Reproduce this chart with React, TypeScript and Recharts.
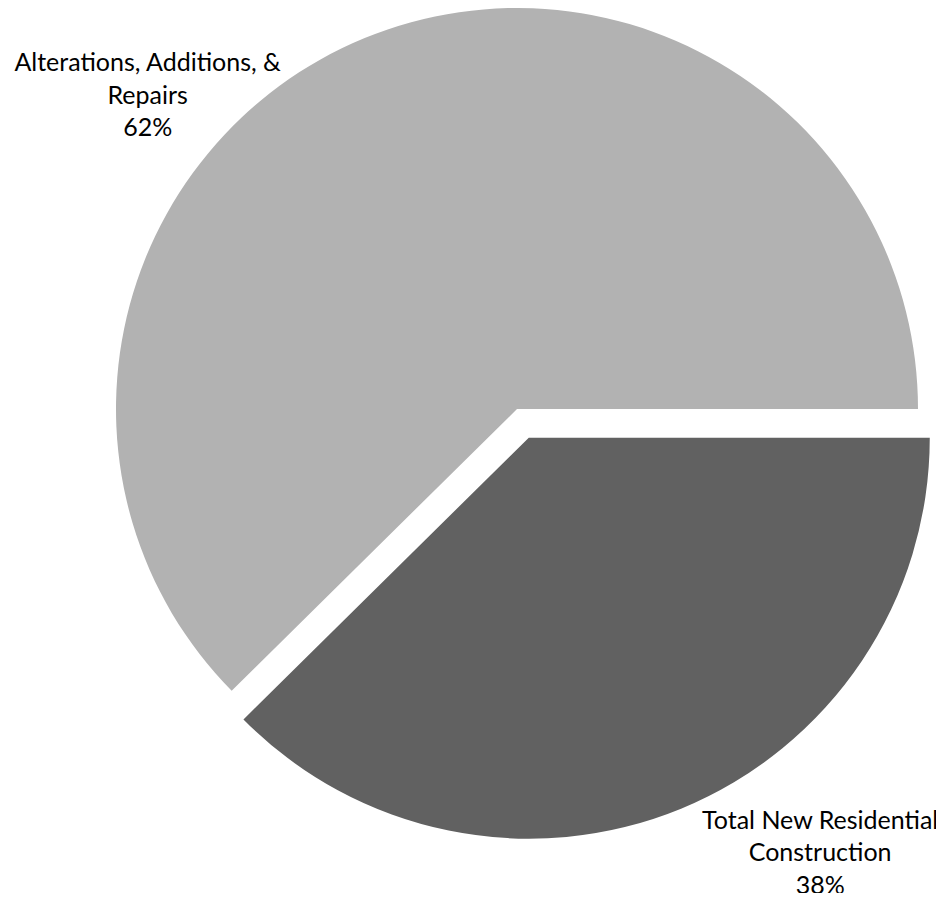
import { Cell, Pie, PieChart } from 'recharts';

const categories = ['Alterations, Additions, & Repairs', 'Total New Residential Construction'];
const shares = [62.4, 37.6];
const labelLines = [
    ['Alterations, Additions, &', 'Repairs'],
    ['Total New Residential', 'Construction'],
];
const COLORS = ['#b2b2b2', '#616161'];

const data = categories.map((name, i) => ({ name, value: shares[i] }));

const W = 944;
const H = 901;
const CX = 517;
const CY = 409;
const R = 401;
const EXPLODE = 31; // the dark slice is pulled out

// mid angle of the exploded (second) slice, counter-clockwise from 3 o'clock
const total = shares.reduce((a, b) => a + b, 0);
const darkMid = 360 * (shares[0] + shares[1] / 2) / total;
const rad = (darkMid * Math.PI) / 180;
const dx = EXPLODE * Math.cos(rad);
const dy = -EXPLODE * Math.sin(rad);

// where each label block sits, relative to the pie centre (in radii)
const LABEL_POS = [
    { x: -0.921, y: -0.842 },
    { x: 0.756, y: 1.047 },
];

const FONT = 'Lato, "Open Sans", sans-serif';

function renderLabel(props: any) {
    const { cx, cy, outerRadius, index, percent } = props;
    const pos = LABEL_POS[index];
    const x = cx + pos.x * outerRadius;
    const y = cy + pos.y * outerRadius;
    const lines = [...labelLines[index], `${Math.round(percent * 100)}%`];
    return (
        <text
            key={`lbl-${index}`}
            x={x}
            y={y}
            textAnchor="middle"
            fill="#000"
            fontSize={25}
            fontFamily={FONT}
        >
            {lines.map((l, i) => (
                <tspan key={i} x={x} dy={i === 0 ? 0 : 32.5}>
                    {l}
                </tspan>
            ))}
        </text>
    );
}

export default function App() {
    return (
        <div style={{ margin: -8 }}>
            <PieChart width={W} height={H} margin={{ top: 0, right: 0, bottom: 0, left: 0 }}>
                <Pie
                    data={data}
                    dataKey="value"
                    nameKey="name"
                    cx={CX}
                    cy={CY}
                    outerRadius={R}
                    startAngle={0}
                    endAngle={360}
                    stroke="none"
                    label={renderLabel}
                    labelLine={false}
                    isAnimationActive={false}
                >
                    {data.map((entry, index) => (
                        <Cell key={`a-${index}`} fill={index === 0 ? COLORS[0] : 'none'} />
                    ))}
                </Pie>
                <Pie
                    data={data}
                    dataKey="value"
                    nameKey="name"
                    cx={CX + dx}
                    cy={CY + dy}
                    outerRadius={R}
                    startAngle={0}
                    endAngle={360}
                    stroke="none"
                    isAnimationActive={false}
                >
                    {data.map((entry, index) => (
                        <Cell key={`b-${index}`} fill={index === 1 ? COLORS[1] : 'none'} />
                    ))}
                </Pie>
            </PieChart>
        </div>
    );
}
